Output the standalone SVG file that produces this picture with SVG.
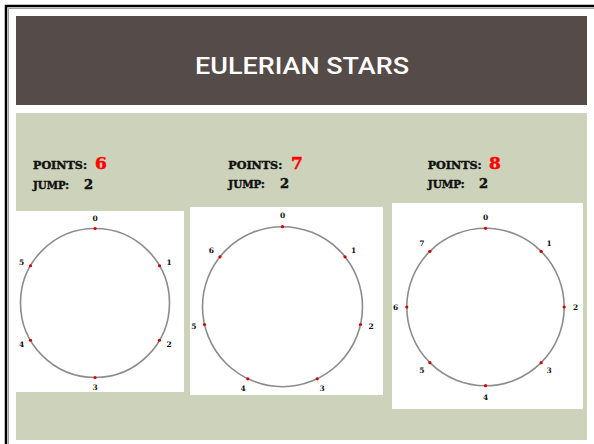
<svg xmlns="http://www.w3.org/2000/svg" width="594" height="444" viewBox="0 0 594 444">
<style>
.lab{font-family:"DejaVu Serif","Liberation Serif",serif;font-weight:bold;fill:#111}
.key{font-size:11px;stroke:#111;stroke-width:0.45}
.big{stroke-width:0.5}
.num{font-size:7.5px;text-anchor:middle}
.ring{fill:none;stroke:#8c8c8c;stroke-width:1.6}
.dot{fill:#d40000}
.panel{fill:#ffffff}
</style>
<rect x="0" y="0" width="594" height="444" fill="#ffffff"/>
<g id="frame">
<path d="M6 450 V6 H600" fill="none" stroke="#000" stroke-width="2.5"/>
<path d="M8.5 450 V8.5 H600" fill="none" stroke="#777" stroke-width="0.7"/>
</g>
<g id="title">
<rect x="16" y="16" width="571" height="89" fill="#554b48"/>
<text x="302" y="74" text-anchor="middle" font-family="Roboto, Liberation Sans, Arial, sans-serif" font-weight="500" font-size="24" fill="#ffffff" textLength="214" lengthAdjust="spacingAndGlyphs">EULERIAN STARS</text>
</g>
<rect id="content" x="16" y="113" width="571" height="327" fill="#cdd2bb"/>

<g id="star6">
<text class="lab key" x="33" y="169.3" textLength="54" lengthAdjust="spacingAndGlyphs">POINTS:</text>
<text class="lab big" x="95" y="169.3" font-size="17" style="fill:#ff0000;stroke:#ff0000">6</text>
<text class="lab key" x="33" y="189" textLength="36" lengthAdjust="spacingAndGlyphs">JUMP:</text>
<text class="lab big" x="84" y="189" font-size="13" style="stroke:#111">2</text>
<rect class="panel" x="16" y="211" width="168" height="181"/>
<circle class="ring" cx="95" cy="303" r="74.5"/>
<circle class="dot" cx="95" cy="228.5" r="1.6"/>
<circle class="dot" cx="159.5" cy="265.75" r="1.6"/>
<circle class="dot" cx="159.5" cy="340.25" r="1.6"/>
<circle class="dot" cx="95" cy="377.5" r="1.6"/>
<circle class="dot" cx="30.5" cy="340.25" r="1.6"/>
<circle class="dot" cx="30.5" cy="265.75" r="1.6"/>
<text class="lab num" x="95" y="220.5">0</text>
<text class="lab num" x="169" y="264.5">1</text>
<text class="lab num" x="169" y="346.5">2</text>
<text class="lab num" x="95" y="390">3</text>
<text class="lab num" x="21.7" y="346.5">4</text>
<text class="lab num" x="21.7" y="264.5">5</text>
</g>

<g id="star7">
<text class="lab key" x="228.3" y="169" textLength="54" lengthAdjust="spacingAndGlyphs">POINTS:</text>
<text class="lab big" x="291" y="169" font-size="17" style="fill:#ff0000;stroke:#ff0000">7</text>
<text class="lab key" x="228.3" y="188" textLength="36.5" lengthAdjust="spacingAndGlyphs">JUMP:</text>
<text class="lab big" x="280" y="188" font-size="13" style="stroke:#111">2</text>
<rect class="panel" x="190" y="207" width="193" height="188"/>
<circle class="ring" cx="282.5" cy="306.7" r="80"/>
<circle class="dot" cx="282.5" cy="226.7" r="1.6"/>
<circle class="dot" cx="345" cy="256.8" r="1.6"/>
<circle class="dot" cx="360.5" cy="324.5" r="1.6"/>
<circle class="dot" cx="317.2" cy="378.8" r="1.6"/>
<circle class="dot" cx="247.8" cy="378.8" r="1.6"/>
<circle class="dot" cx="204.5" cy="324.5" r="1.6"/>
<circle class="dot" cx="220" cy="256.8" r="1.6"/>
<text class="lab num" x="282.5" y="218.2">0</text>
<text class="lab num" x="353.6" y="252.5">1</text>
<text class="lab num" x="371.2" y="329.4">2</text>
<text class="lab num" x="322" y="391">3</text>
<text class="lab num" x="243" y="391">4</text>
<text class="lab num" x="193.8" y="329.4">5</text>
<text class="lab num" x="211.4" y="252.5">6</text>
</g>

<g id="star8">
<text class="lab key" x="427.7" y="169.3" textLength="54" lengthAdjust="spacingAndGlyphs">POINTS:</text>
<text class="lab big" x="489" y="169.3" font-size="17" style="fill:#ff0000;stroke:#ff0000">8</text>
<text class="lab key" x="427.7" y="188.3" textLength="37" lengthAdjust="spacingAndGlyphs">JUMP:</text>
<text class="lab big" x="479" y="188.3" font-size="13" style="stroke:#111">2</text>
<rect class="panel" x="392" y="203" width="191" height="206"/>
<circle class="ring" cx="485.5" cy="307" r="78.7"/>
<circle class="dot" cx="485.5" cy="228.3" r="1.6"/>
<circle class="dot" cx="541.15" cy="251.35" r="1.6"/>
<circle class="dot" cx="564.2" cy="307" r="1.6"/>
<circle class="dot" cx="541.15" cy="362.65" r="1.6"/>
<circle class="dot" cx="485.5" cy="385.7" r="1.6"/>
<circle class="dot" cx="429.85" cy="362.65" r="1.6"/>
<circle class="dot" cx="406.8" cy="307" r="1.6"/>
<circle class="dot" cx="429.85" cy="251.35" r="1.6"/>
<text class="lab num" x="485.5" y="219.5">0</text>
<text class="lab num" x="549.1" y="245.9">1</text>
<text class="lab num" x="575.5" y="309.5">2</text>
<text class="lab num" x="549.1" y="373.1">3</text>
<text class="lab num" x="485.5" y="399.5">4</text>
<text class="lab num" x="421.9" y="373.1">5</text>
<text class="lab num" x="395.5" y="309.5">6</text>
<text class="lab num" x="421.9" y="245.9">7</text>
</g>
<g id="connectors"/>
</svg>
